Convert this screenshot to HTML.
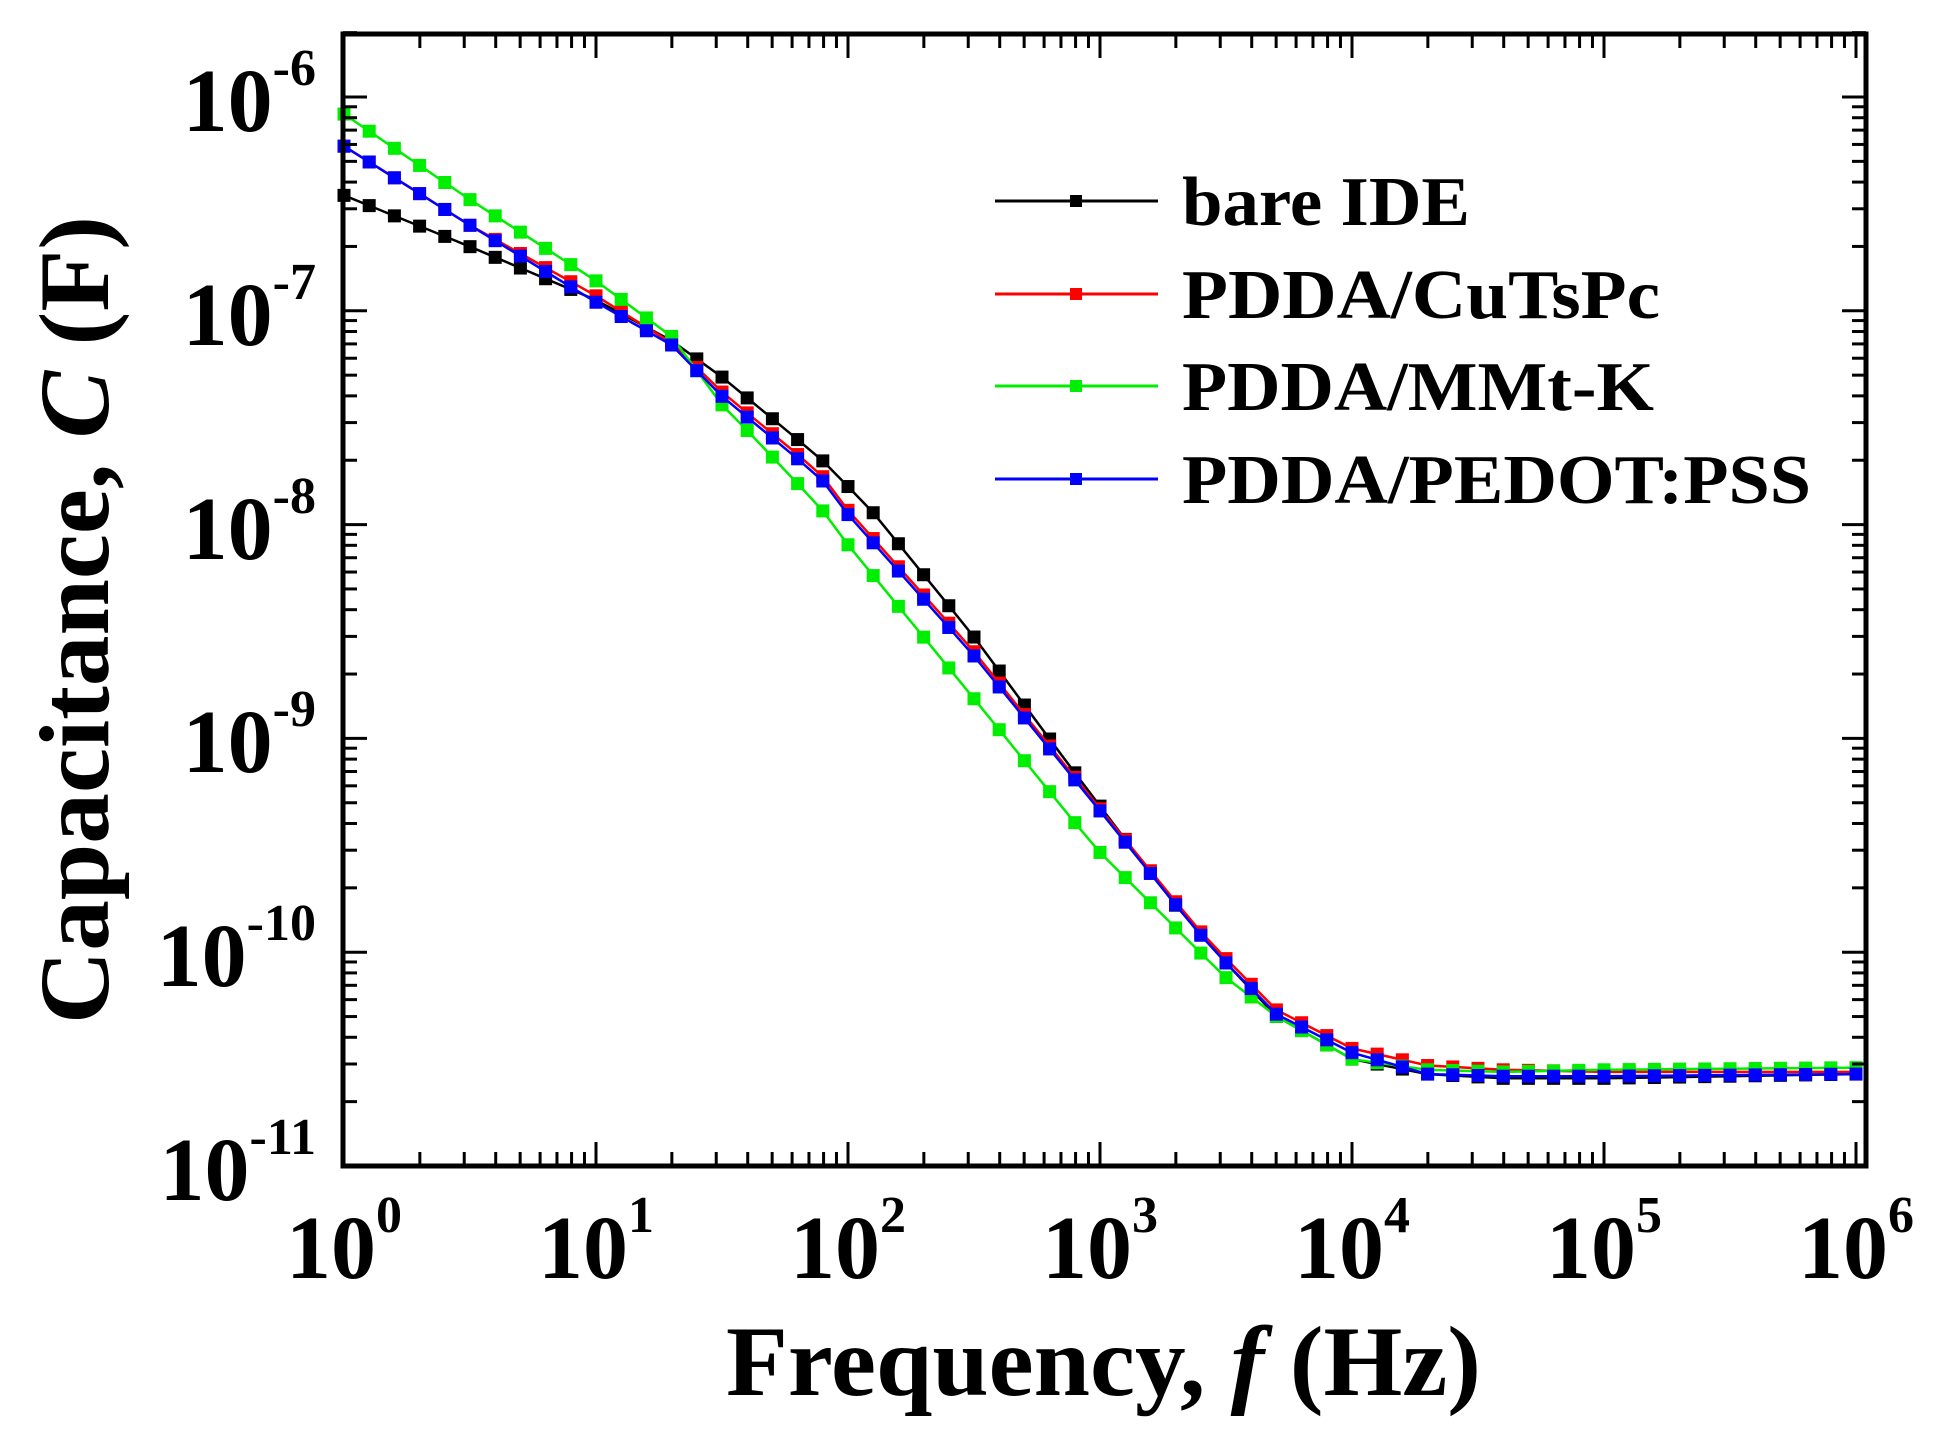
<!DOCTYPE html>
<html><head><meta charset="utf-8"><style>
html,body{margin:0;padding:0;background:#fff;}
svg{display:block;}
text{font-family:"Liberation Serif",serif;font-weight:bold;fill:#000;}
</style></head><body>
<svg id="s" width="1935" height="1443" viewBox="0 0 1935 1443" xmlns="http://www.w3.org/2000/svg">
<g id="series"></g>
<g id="ticks" stroke="#000" stroke-width="3"></g>
<rect x="343" y="34" width="1523" height="1132" fill="none" stroke="#000" stroke-width="5"/>
<g font-size="90" text-anchor="end">
<text x="316" y="131">10<tspan font-size="52" dy="-46">-6</tspan></text>
<text x="316" y="345">10<tspan font-size="52" dy="-46">-7</tspan></text>
<text x="316" y="559">10<tspan font-size="52" dy="-46">-8</tspan></text>
<text x="316" y="772">10<tspan font-size="52" dy="-46">-9</tspan></text>
<text x="316" y="986">10<tspan font-size="52" dy="-46">-10</tspan></text>
<text x="316" y="1200">10<tspan font-size="52" dy="-46">-11</tspan></text>
</g>
<g font-size="90" text-anchor="middle">
<text x="344" y="1278">10<tspan font-size="52" dy="-46">0</tspan></text>
<text x="596" y="1278">10<tspan font-size="52" dy="-46">1</tspan></text>
<text x="848" y="1278">10<tspan font-size="52" dy="-46">2</tspan></text>
<text x="1100" y="1278">10<tspan font-size="52" dy="-46">3</tspan></text>
<text x="1352" y="1278">10<tspan font-size="52" dy="-46">4</tspan></text>
<text x="1604" y="1278">10<tspan font-size="52" dy="-46">5</tspan></text>
<text x="1856" y="1278">10<tspan font-size="52" dy="-46">6</tspan></text>
</g>
<text x="726" y="1395" font-size="100" textLength="755" lengthAdjust="spacingAndGlyphs">Frequency, <tspan font-style="italic">f</tspan> (Hz)</text>
<text transform="translate(108,620) rotate(-90)" x="0" y="0" font-size="100" text-anchor="middle" textLength="808" lengthAdjust="spacingAndGlyphs">Capacitance, <tspan font-style="italic">C</tspan> (F)</text>
<g stroke-width="3">
<line x1="995" y1="201" x2="1158" y2="201" stroke="#000"/>
<rect x="1070" y="195" width="12" height="12" fill="#000"/>
<line x1="995" y1="294" x2="1158" y2="294" stroke="#ff0000"/>
<rect x="1070" y="288" width="12" height="12" fill="#ff0000"/>
<line x1="995" y1="386" x2="1158" y2="386" stroke="#00ee00"/>
<rect x="1070" y="380" width="12" height="12" fill="#00ee00"/>
<line x1="995" y1="479" x2="1158" y2="479" stroke="#0000ff"/>
<rect x="1070" y="473" width="12" height="12" fill="#0000ff"/>
</g>
<g font-size="70">
<text x="1182" y="225" textLength="288" lengthAdjust="spacingAndGlyphs">bare IDE</text>
<text x="1182" y="318" textLength="478" lengthAdjust="spacingAndGlyphs">PDDA/CuTsPc</text>
<text x="1182" y="410" textLength="472" lengthAdjust="spacingAndGlyphs">PDDA/MMt-K</text>
<text x="1182" y="503" textLength="629" lengthAdjust="spacingAndGlyphs">PDDA/PEDOT:PSS</text>
</g>
</svg>
<script>
(function(){
var NS="http://www.w3.org/2000/svg";
function X(lf){return 344+252*lf;}
function Y(lc){return 1166-213.8*(lc+11);}
var t=document.getElementById('ticks');
function ln(x1,y1,x2,y2){var l=document.createElementNS(NS,'line');l.setAttribute('x1',x1);l.setAttribute('y1',y1);l.setAttribute('x2',x2);l.setAttribute('y2',y2);t.appendChild(l);}
for(var d=0;d<6;d++){for(var m=1;m<10;m++){var lf=d+Math.log10(m);var x=X(lf);var L=(m==1)?24:14;
 if(m==1&&d==0)continue; ln(x,1166,x,1166-L);ln(x,34,x,34+L);}}
ln(X(6),1166,X(6),1142);ln(X(6),34,X(6),58);
for(var d=-11;d<-5;d++){for(var m=1;m<10;m++){var lc=d+Math.log10(m);if(lc>-5.69)continue;var y=Y(lc);var L=(m==1)?24:14;
 if(d==-11&&m==1)continue; ln(343,y,343+L,y);ln(1866,y,1866-L,y);}}
var data={
 "#000000":[[0,-6.46],[0.5,-6.7],[1,-6.95],[1.3,-7.14],[1.5,-7.31],[1.89,-7.69],[2.09,-7.93],[2.49,-8.51],[2.88,-9.13],[3.285,-9.76],[3.5,-10.05],[3.7,-10.3],[4,-10.5],[4.3,-10.57],[4.6,-10.59],[5,-10.59],[6,-10.57]],
 "#ff0000":[[0,-6.23],[0.5,-6.6],[1,-6.93],[1.3,-7.15],[1.5,-7.38],[1.89,-7.76],[1.99,-7.92],[2.49,-8.58],[2.98,-9.3],[3.38,-9.88],[3.5,-10.03],[3.7,-10.27],[4,-10.45],[4.3,-10.53],[4.6,-10.55],[5,-10.56],[6,-10.56]],
 "#00ee00":[[0,-6.08],[0.5,-6.48],[1,-6.86],[1.3,-7.12],[1.5,-7.44],[1.6,-7.56],[1.89,-7.92],[1.99,-8.08],[2.49,-8.8],[2.98,-9.51],[3.49,-10.11],[3.7,-10.3],[4,-10.5],[4.3,-10.55],[4.6,-10.56],[5,-10.55],[6,-10.54]],
 "#0000ff":[[0,-6.23],[0.5,-6.6],[1,-6.96],[1.3,-7.16],[1.5,-7.4],[1.89,-7.78],[1.99,-7.94],[2.49,-8.6],[2.98,-9.31],[3.38,-9.895],[3.5,-10.05],[3.7,-10.29],[4,-10.47],[4.3,-10.57],[4.6,-10.58],[5,-10.58],[6,-10.57]]
};
function interp(p,x){for(var i=0;i<p.length-1;i++){if(x<=p[i+1][0]+1e-9){var a=p[i],b=p[i+1];return a[1]+(b[1]-a[1])*(x-a[0])/(b[0]-a[0]);}}return p[p.length-1][1];}
var g=document.getElementById('series');
var order=["#000000","#ff0000","#00ee00","#0000ff"];
order.forEach(function(c){
 var pts=[];for(var i=0;i<=60;i++){var lf=i/10;pts.push([X(lf),Y(interp(data[c],lf))]);}
 var pl=document.createElementNS(NS,'polyline');pl.setAttribute('points',pts.map(function(p){return p[0].toFixed(1)+','+p[1].toFixed(1);}).join(' '));
 pl.setAttribute('fill','none');pl.setAttribute('stroke',c);pl.setAttribute('stroke-width','2.5');g.appendChild(pl);
 pts.forEach(function(p){var r=document.createElementNS(NS,'rect');r.setAttribute('x',p[0]-6.5);r.setAttribute('y',p[1]-6.5);r.setAttribute('width',13);r.setAttribute('height',13);r.setAttribute('fill',c);g.appendChild(r);});
});
})();
</script>
</body></html>
